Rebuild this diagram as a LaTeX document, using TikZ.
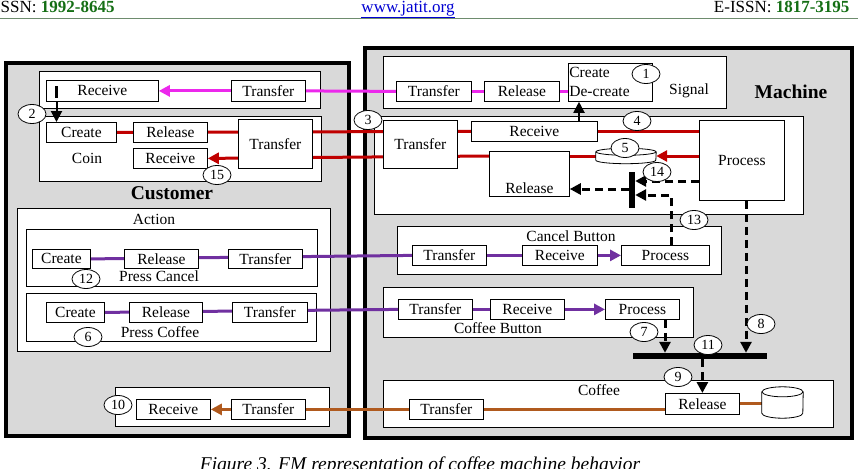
\documentclass[tikz,border=0pt]{standalone}
\usepackage{fontspec}
\setmainfont{Liberation Serif}
\usetikzlibrary{arrows.meta,shapes.geometric}
\pgfdeclarelayer{back}
\pgfdeclarelayer{lines}
\pgfsetlayers{back,lines,main}

\definecolor{panelgray}{RGB}{217,217,217}
\definecolor{sigmag}{RGB}{236,40,236}
\definecolor{coinred}{RGB}{192,0,0}
\definecolor{btnpurple}{RGB}{112,48,160}
\definecolor{cupbrown}{RGB}{176,90,30}
\definecolor{hdrgreen}{RGB}{20,110,20}
\definecolor{hdrline}{RGB}{110,140,110}
\definecolor{linkblue}{RGB}{0,0,210}

\tikzset{
  lbl/.style={font=\fontsize{15.5}{18}\selectfont},
  hdr/.style={font=\fontsize{17}{18}\selectfont},
  box/.style={draw, fill=white, line width=0.8pt, inner sep=0pt, lbl},
  panel/.style={draw, fill=white, line width=0.8pt},
  side/.style={draw, fill=panelgray, line width=4.5pt},
  num/.style={draw, ellipse, fill=white, line width=0.8pt, inner sep=0pt,
    minimum width=28pt, minimum height=19pt, font=\fontsize{14}{14}\selectfont},
  flow/.style={line width=3pt},
  tip/.style={-{Triangle[length=11pt,width=11pt]}},
  ctrl/.style={line width=3pt, dash pattern=on 8pt off 5pt},
  bar/.style={fill=black, inner sep=0pt},
  head/.style={font=\bfseries\fontsize{19.5}{20}\selectfont},
}
% box given by its upper left and lower right corner
\newcommand{\bx}[6]{\node[box, anchor=north west, minimum width={(#4-#2)*1pt},
  minimum height={(#5-#3)*1pt}] (#1) at (#2,#3) {#6};}

\begin{document}
\begin{tikzpicture}[x=1pt,y=-1pt]
  \useasboundingbox (0,0) rectangle (858,468);
  % page header and caption
  \node[hdr, anchor=base west] (issn) at (-8.5,12.5) {ISSN: \textbf{\color{hdrgreen}1992-8645}};
  \node[hdr, anchor=base] (site) at (408,12.5) {\color{linkblue}\underline{www.jatit.org}};
  \node[hdr, anchor=base east] (eissn) at (853,12.5) {E-ISSN: \textbf{\color{hdrgreen}1817-3195}};
  \draw[hdrline, line width=1pt] (0,18.5) -- (858,18.5);
  \node[font=\itshape\fontsize{19.5}{20}\selectfont, anchor=base] (cap) at (420,470)
    {Figure 3. FM representation of coffee machine behavior};

  % the two spheres and their panels
  \begin{pgfonlayer}{back}
    \draw[side] (6,63) rectangle (349,436);
    \draw[side] (365,48) rectangle (852,438);
    \draw[panel] (39,71) rectangle (320,108);
    \draw[panel] (39,116) rectangle (321,181);
    \draw[panel] (17,208) rectangle (330,351);
    \draw[panel] (26,229) rectangle (317,286);
    \draw[panel] (26,293) rectangle (316,341);
    \draw[panel] (115,387) rectangle (329,426);
    \draw[panel] (383,56) rectangle (726,108);
    \draw[panel] (374,116) rectangle (803,214);
    \draw[panel] (397,226) rectangle (721,274);
    \draw[panel] (383,287) rectangle (693,337);
    \draw[panel] (383,380) rectangle (833,427);
  \end{pgfonlayer}
  \node[head] (cust) at (172,193) {Customer};
  \node[head] (mach) at (791,92) {Machine};

  % customer: signal and coin
  \bx{srecv}{46}{80}{158}{101}{Receive}
  \bx{stran}{231}{80}{305}{101}{Transfer}
  \node[bar, minimum width=3pt, minimum height=12pt] (imark) at (56.5,92) {};
  \bx{ccreate}{46}{122}{116}{142}{Create}
  \bx{crel}{133}{122}{207}{142}{Release}
  \bx{crecv}{133}{148}{207}{168}{Receive}
  \bx{ctran}{238}{119}{312}{168}{Transfer}
  \node[lbl] (coin) at (87,158) {Coin};
  % customer: action and coffee
  \node[lbl] (action) at (154,219) {Action};
  \bx{acreate}{32}{249}{90}{268}{Create}
  \bx{arel}{124}{249}{198}{268}{Release}
  \bx{atran}{228}{249}{302}{268}{Transfer}
  \node[lbl] (pcancel) at (159,276) {Press Cancel};
  \bx{pcreate}{46}{302}{104}{322}{Create}
  \bx{prel}{129}{302}{202}{322}{Release}
  \bx{ptran}{232}{302}{307}{322}{Transfer}
  \node[lbl] (pcoffee) at (160,332) {Press Coffee};
  \bx{urecv}{136}{399}{210}{419}{Receive}
  \bx{utran}{231}{399}{305}{419}{Transfer}

  % machine: signal and coin
  \bx{mstran}{396}{81}{471}{101}{Transfer}
  \bx{msrel}{484}{81}{559}{101}{Release}
  \node[box, anchor=north west, minimum height=38pt, text width=82pt, inner xsep=1pt,
    align=left, font=\fontsize{15.5}{19}\selectfont] (mcreate) at (568,63) {Create\\De-create};
  \node[lbl] (signal) at (689,91) {Signal};
  \bx{mctran}{383}{120}{457}{168}{Transfer}
  \bx{mcrecv}{471}{121}{597}{141}{Receive}
  \bx{mproc}{699}{120}{784}{200}{Process}
  \bx{mrel}{489}{151}{569}{196}{}
  \node[lbl, anchor=base] (mrelt) at ([yshift=3pt]mrel.south) {Release};
  \node[inner sep=0pt, minimum width=60pt, minimum height=15pt] (disk) at (626,156) {};
  \draw[fill=white, line width=0.8pt] ([yshift=-3.5pt]disk.north west)
    -- ([yshift=3.5pt]disk.south west) arc[start angle=180, end angle=360, x radius=30pt, y radius=3.5pt]
    -- ([yshift=-3.5pt]disk.north east);
  \draw[fill=white, line width=0.8pt] ([yshift=-3.5pt]disk.north) ellipse [x radius=30pt, y radius=3.5pt];
  \node[bar, minimum width=6pt, minimum height=36pt] (vbar) at (632,190) {};
  % machine: buttons and coffee
  \node[lbl] (cbtn) at (571,236) {Cancel Button};
  \bx{kbtran}{412}{245}{486}{265}{Transfer}
  \bx{kbrecv}{522}{245}{597}{265}{Receive}
  \bx{kbproc}{621}{245}{709}{265}{Process}
  \node[lbl] (fbtn) at (498,328) {Coffee Button};
  \bx{fbtran}{398}{299}{472}{319}{Transfer}
  \bx{fbrecv}{490}{299}{564}{319}{Receive}
  \bx{fbproc}{605}{299}{679}{319}{Process}
  \node[bar, minimum width=134pt, minimum height=6pt] (hbar) at (700,356) {};
  \node[lbl] (coffee) at (599,390) {Coffee};
  \bx{ktran}{409}{399}{483}{419}{Transfer}
  \bx{krel}{665}{393}{739}{414}{Release}
  \node[inner sep=0pt, minimum width=41pt, minimum height=31pt] (cup) at (782.5,402.5) {};
  \draw[fill=white, line width=0.8pt] ([yshift=-5pt]cup.north west)
    -- ([yshift=5pt]cup.south west) arc[start angle=180, end angle=360, x radius=20.5pt, y radius=5pt]
    -- ([yshift=-5pt]cup.north east);
  \draw[fill=white, line width=0.8pt] ([yshift=-5pt]cup.north) ellipse [x radius=20.5pt, y radius=5pt];

  \begin{pgfonlayer}{lines}
    % signal flow
    \draw[flow, sigmag, tip] (stran.west) -- (srecv.east);
    \draw[flow, sigmag] (stran.east) -- (mstran.west);
    \draw[flow, sigmag] (mstran.east) -- (msrel.west);
    \draw[flow, sigmag] (msrel.east) -- (mcreate.west |- msrel.east);
    \draw[line width=2pt, tip] (imark.south) -- (ccreate.north -| imark.south);
    \draw[line width=2pt, tip] (mcrecv.north -| 579,0) -- (mcreate.south -| 579,0);
    % coin flow
    \draw[flow, coinred] (ccreate.east) -- (mcrecv.west);
    \draw[flow, coinred] (mcrecv.east) -- (mproc.west |- mcrecv.east);
    \draw[flow, coinred, tip] (mproc.west |- disk.east) -- (disk.east);
    \draw[flow, coinred] (disk.west) -- (mrel.east |- disk.west);
    \draw[flow, coinred, tip] (mrel.west |- disk.west) -- (crecv.east);
    % button flows
    \draw[flow, btnpurple] (acreate.east) -- (kbtran.west);
    \draw[flow, btnpurple] (kbtran.east) -- (kbrecv.west);
    \draw[flow, btnpurple, tip] (kbrecv.east) -- (kbproc.west);
    \draw[flow, btnpurple] (pcreate.east) -- (fbtran.west);
    \draw[flow, btnpurple] (fbtran.east) -- (fbrecv.west);
    \draw[flow, btnpurple, tip] (fbrecv.east) -- (fbproc.west);
    % coffee flow
    \draw[flow, cupbrown, tip] (utran.west) -- (urecv.east);
    \draw[flow, cupbrown] (utran.east) -- (krel.west |- utran.east);
    \draw[flow, cupbrown] (krel.east) -- (cup.west |- krel.east);
    % triggering
    \draw[ctrl, tip] (mproc.west |- 0,181) -- (vbar.east |- 0,181);
    \draw[ctrl, tip] (vbar.west |- 0,189) -- (mrel.east |- 0,189);
    \draw[ctrl, tip] (kbproc.north -| 671,0) |- (vbar.east |- 0,195);
    \draw[ctrl, tip] (mproc.south -| 746,0) -- (hbar.north -| 746,0);
    \draw[ctrl, tip] (fbproc.south -| 665,0) -- (hbar.north -| 665,0);
    \draw[ctrl, tip] (hbar.south -| krel.north) -- (krel.north);
  \end{pgfonlayer}

  % event numbers
  \foreach \n/\x/\y in {1/646/74, 2/32/114, 3/368/120, 4/637/121, 5/625/148,
      6/88/337, 7/644/332, 8/761/324, 9/678/377, 10/118/405, 11/708/345,
      12/86/279, 13/694/220, 14/657/172, 15/217/175}
    \node[num] (n\n) at (\x,\y) {\n};
\end{tikzpicture}
\end{document}
